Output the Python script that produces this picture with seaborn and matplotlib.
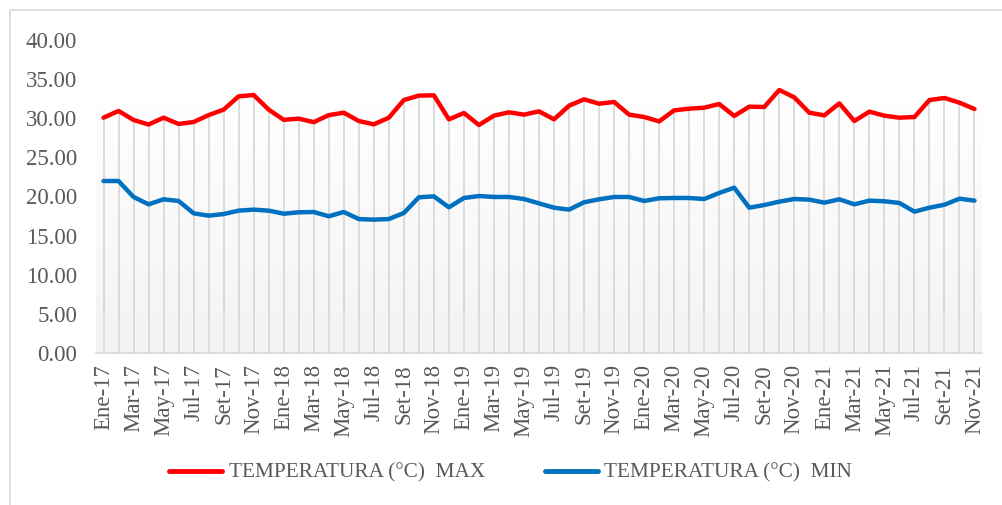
import matplotlib
matplotlib.use("Agg")
import matplotlib.pyplot as plt
import seaborn as sns
import pandas as pd
import numpy as np
from matplotlib.patches import Rectangle

# month labels Ene-17 .. Nov-21
meses = ["Ene", "Feb", "Mar", "Abr", "May", "Jun", "Jul", "Ago", "Set", "Oct", "Nov", "Dic"]
years = ["17", "18", "19", "20", "21"]
labels = [f"{m}-{y}" for y in years for m in meses][:59]

temp_max = [
    30.07, 30.93, 29.78, 29.20, 30.07, 29.27, 29.52, 30.40, 31.10, 32.80,
    32.97, 31.10, 29.80, 29.95, 29.50, 30.40, 30.71, 29.65, 29.22, 30.07,
    32.33, 32.89, 32.93, 29.86, 30.67, 29.14, 30.33, 30.76, 30.46, 30.88,
    29.86, 31.60, 32.42, 31.86, 32.08, 30.46, 30.16, 29.60, 31.01, 31.22,
    31.35, 31.82, 30.29, 31.48, 31.44, 33.61, 32.67, 30.71, 30.37, 31.90,
    29.65, 30.84, 30.33, 30.07, 30.16, 32.33, 32.59, 31.99, 31.18,
]
temp_min = [
    21.98, 21.98, 19.94, 19.00, 19.64, 19.43, 17.85, 17.55, 17.76, 18.19,
    18.32, 18.19, 17.80, 17.98, 18.02, 17.47, 18.02, 17.12, 17.04, 17.12,
    17.89, 19.90, 20.02, 18.62, 19.81, 20.06, 19.94, 19.94, 19.68, 19.12,
    18.57, 18.32, 19.26, 19.64, 19.94, 19.94, 19.43, 19.77, 19.81, 19.81,
    19.68, 20.45, 21.13, 18.57, 18.91, 19.34, 19.68, 19.60, 19.21, 19.64,
    19.00, 19.47, 19.39, 19.17, 18.06, 18.57, 18.95, 19.72, 19.47,
]

df = pd.DataFrame({"mes": labels, "idx": range(len(labels)),
                   "TEMPERATURA (°C)  MAX": temp_max,
                   "TEMPERATURA (°C)  MIN": temp_min})
long = df.melt(id_vars=["mes", "idx"], var_name="serie", value_name="temp")

sns.set_style("white")
plt.rcParams["font.family"] = ["Liberation Serif", "DejaVu Serif"]

fig = plt.figure(figsize=(10.03, 5.05), dpi=100)
ax = fig.add_axes([96 / 1003, 1 - 353 / 505, 886 / 1003, 313 / 505])

n = len(labels)
# faint gradient behind the plot
grad = np.linspace(1.0, 0.95, 100).reshape(-1, 1)
ax.imshow(grad, extent=(-0.5, n - 0.5, 0, 35), aspect="auto", cmap="gray",
          vmin=0, vmax=1, zorder=0, origin="upper")

# drop lines from max series
ax.vlines(df["idx"], 0, df["TEMPERATURA (°C)  MAX"], color="#d9d9d9", lw=1.3, zorder=1)

sns.lineplot(data=long, x="idx", y="temp", hue="serie",
             palette=["#FF0000", "#0070C0"], lw=3.2, ax=ax, zorder=3,
             solid_capstyle="round", solid_joinstyle="round")

ax.set_xlim(-0.5, n - 0.5)
ax.set_ylim(0, 40)
ax.set_yticks(np.arange(0, 41, 5))
ax.set_yticklabels([f"{v:.2f}" for v in np.arange(0, 41, 5)])
ax.set_xticks(df["idx"][::2])
ax.set_xticklabels(df["mes"][::2], rotation=90)
ax.set_xticks(np.arange(-0.5, n - 1, 2), minor=True)
ax.tick_params(axis="x", which="major", length=0, pad=8, labelsize=16.5, colors="#595959")
ax.tick_params(axis="x", which="minor", length=5, width=1, color="#d9d9d9", direction="out")
ax.tick_params(axis="y", length=0, pad=13.5, labelsize=16.5, colors="#595959")
ax.set_xlabel("")
ax.set_ylabel("")
for s in ["top", "right", "left"]:
    ax.spines[s].set_visible(False)
ax.spines["bottom"].set_color("#d9d9d9")
ax.spines["bottom"].set_linewidth(1.2)

leg = ax.legend(loc="center", bbox_to_anchor=(0.468, (473 - 353) / -313.0),
                ncol=2, frameon=False, fontsize=15.3, handlelength=2.5,
                handletextpad=0.3, columnspacing=2.8)
for t in leg.get_texts():
    t.set_color("#595959")
for h in leg.get_lines():
    h.set_linewidth(3.5)

fig.patches.append(Rectangle((10 / 1003, -0.1), 1.2, 1 - 10 / 505 + 0.1,
                             transform=fig.transFigure, fill=False,
                             edgecolor="#d9d9d9", lw=1.2))

fig.savefig("out.png", dpi=100)
